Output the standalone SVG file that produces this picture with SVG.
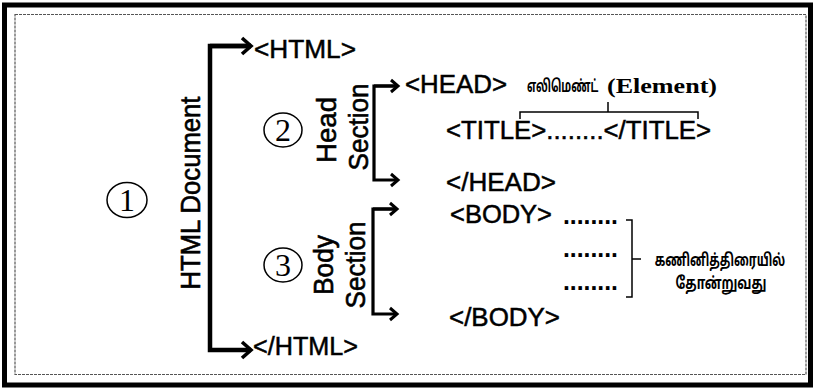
<svg xmlns="http://www.w3.org/2000/svg" width="814" height="389" viewBox="0 0 814 389">
<defs>
<marker id="chevL" markerUnits="userSpaceOnUse" markerWidth="20" markerHeight="24" refX="12" refY="10" orient="auto" viewBox="0 0 20 20">
<polyline points="3,2 12,10 3,18" fill="none" stroke="#000" stroke-width="3.6" stroke-linejoin="miter"/>
</marker>
<marker id="chevS" markerUnits="userSpaceOnUse" markerWidth="16" markerHeight="18" refX="10" refY="8" orient="auto" viewBox="0 0 16 16">
<polyline points="3,2 10,8 3,14" fill="none" stroke="#000" stroke-width="3" stroke-linejoin="miter"/>
</marker>
</defs>
<style>
.tag{font-family:"Liberation Sans",Arial,sans-serif;font-size:25px;fill:#000;stroke:#000;stroke-width:0.5}
.rot{font-family:"Liberation Sans",Arial,sans-serif;font-size:28px;fill:#000;stroke:#000;stroke-width:0.6}
.num{font-family:"Liberation Serif","Times New Roman",serif;font-size:32px;fill:#000}
.ta{font-family:"Noto Sans Tamil","Latha","Noto Sans",sans-serif;font-size:17px;font-weight:bold;fill:#000}
.el{font-family:"Liberation Serif","Times New Roman",serif;font-size:21px;font-weight:bold;fill:#000}
.dot{font-family:"Liberation Sans",Arial,sans-serif;font-size:25px;font-weight:bold;fill:#000}
.big{fill:none;stroke:#000;stroke-width:4.5}
.mid{fill:none;stroke:#000;stroke-width:3.2}
.thin{fill:none;stroke:#000;stroke-width:1.5}
.circ{fill:none;stroke:#000;stroke-width:1.5}
</style>
<rect width="814" height="389" fill="#fff"/>
<g id="frame">
<rect x="4.5" y="5" width="806" height="380" fill="none" stroke="#000" stroke-width="5"/>
<rect x="15" y="14.5" width="791" height="360" fill="none" stroke="#555" stroke-width="1.2" stroke-dasharray="3 1"/>
</g>
<g id="connectors">
<path class="big" d="M251,46 H210 V350 H251" marker-end="url(#chevL)"/>
<path class="big" d="M210,46 H251" marker-end="url(#chevL)"/>
<path class="mid" d="M398,86 H374 V180 H398" marker-end="url(#chevS)"/>
<path class="mid" d="M374,86 H398" marker-end="url(#chevS)"/>
<path class="mid" d="M397,209 H373 V314 H397" marker-end="url(#chevS)"/>
<path class="mid" d="M373,209 H397" marker-end="url(#chevS)"/>
<path class="thin" d="M520,119 V112 H698 V119 M608,102 V112"/>
<path class="thin" d="M626,220 H632 V297 H626 M632,259 H641"/>
</g>
<g id="n1">
<ellipse class="circ" cx="127" cy="200" rx="20" ry="17.5"/>
<text class="num" x="127" y="211" text-anchor="middle">1</text>
</g>
<g id="htmlDoc">
<text class="rot" transform="translate(200,193) rotate(-90)" text-anchor="middle" textLength="193" lengthAdjust="spacingAndGlyphs">HTML Document</text>
</g>
<g id="htmlOpen"><text class="tag" x="254" y="58" textLength="102" lengthAdjust="spacingAndGlyphs">&lt;HTML&gt;</text></g>
<g id="htmlClose"><text class="tag" x="253" y="355" textLength="105" lengthAdjust="spacingAndGlyphs">&lt;/HTML&gt;</text></g>
<g id="n2">
<ellipse class="circ" cx="283" cy="130" rx="19" ry="17"/>
<text class="num" x="283" y="141" text-anchor="middle">2</text>
</g>
<g id="headSection">
<text class="rot" transform="translate(336,130) rotate(-90)" text-anchor="middle" textLength="66" lengthAdjust="spacingAndGlyphs">Head</text>
<text class="rot" transform="translate(368,127) rotate(-90)" text-anchor="middle" textLength="87" lengthAdjust="spacingAndGlyphs">Section</text>
</g>
<g id="headOpen"><text class="tag" x="405" y="93" textLength="102" lengthAdjust="spacingAndGlyphs">&lt;HEAD&gt;</text></g>
<g id="element">
<text class="ta" transform="translate(527,92) scale(0.62,1)">எலிமெண்ட்</text>
<text class="el" x="607" y="93" textLength="110" lengthAdjust="spacingAndGlyphs">(Element)</text>
</g>
<g id="title"><text class="tag" x="446" y="139" textLength="265" lengthAdjust="spacingAndGlyphs">&lt;TITLE&gt;........&lt;/TITLE&gt;</text></g>
<g id="headClose"><text class="tag" x="446" y="191" textLength="110" lengthAdjust="spacingAndGlyphs">&lt;/HEAD&gt;</text></g>
<g id="n3">
<ellipse class="circ" cx="283" cy="265" rx="19" ry="17"/>
<text class="num" x="283" y="276" text-anchor="middle">3</text>
</g>
<g id="bodySection">
<text class="rot" transform="translate(333,265) rotate(-90)" text-anchor="middle" textLength="60" lengthAdjust="spacingAndGlyphs">Body</text>
<text class="rot" transform="translate(365,265) rotate(-90)" text-anchor="middle" textLength="87" lengthAdjust="spacingAndGlyphs">Section</text>
</g>
<g id="bodyOpen"><text class="tag" x="450" y="223" textLength="102" lengthAdjust="spacingAndGlyphs">&lt;BODY&gt;</text></g>
<g id="dots">
<text class="dot" x="563" y="224" textLength="55" lengthAdjust="spacingAndGlyphs">........</text>
<text class="dot" x="563" y="257" textLength="55" lengthAdjust="spacingAndGlyphs">........</text>
<text class="dot" x="563" y="290" textLength="55" lengthAdjust="spacingAndGlyphs">........</text>
</g>
<g id="screen">
<text class="ta" transform="translate(720,266) scale(0.68,1)" text-anchor="middle">கணினித்திரையில்</text>
<text class="ta" transform="translate(721,289) scale(0.73,1)" text-anchor="middle">தோன்றுவது</text>
</g>
<g id="bodyClose"><text class="tag" x="449" y="326" textLength="111" lengthAdjust="spacingAndGlyphs">&lt;/BODY&gt;</text></g>
</svg>
